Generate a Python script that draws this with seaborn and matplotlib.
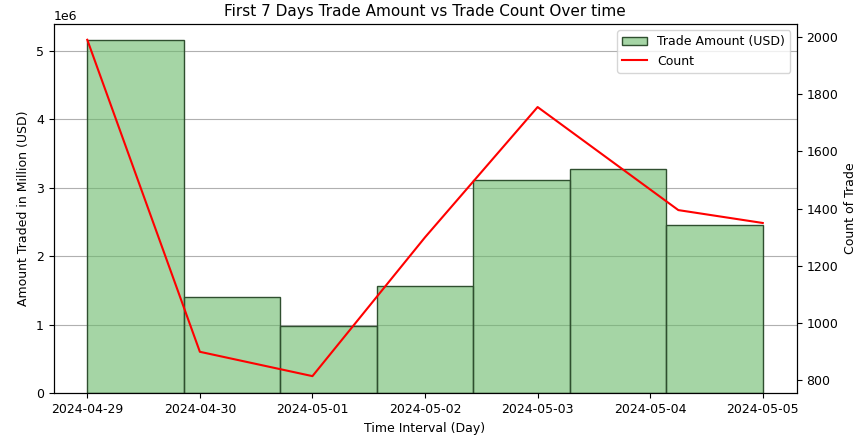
import matplotlib
matplotlib.use("Agg")
import matplotlib.pyplot as plt
import seaborn as sns
import pandas as pd

days = pd.to_datetime(["2024-04-29","2024-04-30","2024-05-01","2024-05-02","2024-05-03","2024-05-04","2024-05-05"])
amounts = [5.15e6, 1.41e6, 0.98e6, 1.57e6, 3.12e6, 3.28e6, 2.45e6]
count_times = pd.to_datetime(["2024-04-29 00:00","2024-04-30 00:00","2024-05-01 00:00","2024-05-02 00:00","2024-05-03 00:00","2024-05-04 06:00","2024-05-05 00:00"])
counts = [1990, 900, 815, 1300, 1755, 1395, 1350]

plt.rcParams.update({"font.size": 9, "axes.titlesize": 11})
df = pd.DataFrame({"day": days, "amount": amounts})
fig, ax = plt.subplots(figsize=(8.63, 4.37), dpi=100)
sns.histplot(data=df, x="day", weights="amount", bins=7, color="#6ab96a", alpha=0.6,
             edgecolor="#2f4f2f", linewidth=1, ax=ax, label="Trade Amount (USD)")
ax.set_ylim(0, 5.39e6)
ax.grid(axis="y", color="#b0b0b0")
ax.set_axisbelow(True)
ax.set_xlabel("Time Interval (Day)")
ax.set_ylabel("Amount Traded in Million (USD)")
ax.set_title("First 7 Days Trade Amount vs Trade Count Over time")
ax2 = ax.twinx()
sns.lineplot(x=count_times, y=counts, color="red", ax=ax2, label="Count", legend=False)
ax2.set_ylim(755, 2045)
ax2.set_ylabel("Count of Trade")
ax.set_xticks(pd.date_range("2024-04-29", "2024-05-05"))
ax.set_xticklabels([d.strftime("%Y-%m-%d") for d in pd.date_range("2024-04-29", "2024-05-05")])
h1, l1 = ax.get_legend_handles_labels()
h2, l2 = ax2.get_legend_handles_labels()
ax2.legend(h1 + h2, l1 + l2, loc="upper right")
fig.subplots_adjust(left=0.062, right=0.923, top=0.945, bottom=0.1)
fig.savefig("out.png")
